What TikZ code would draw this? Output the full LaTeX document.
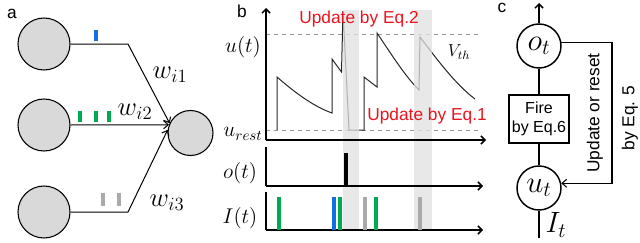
\documentclass[tikz,border=0pt]{standalone}
\usepackage{fix-cm}
\usepackage{fontspec}
\setmainfont{Liberation Sans}
\usetikzlibrary{arrows.meta}

\definecolor{spikeblue}{RGB}{20,110,230}
\definecolor{spikegreen}{RGB}{0,170,80}
\definecolor{spikegray}{RGB}{170,170,170}
\definecolor{eqred}{RGB}{235,20,30}
\definecolor{cellfill}{RGB}{217,217,217}

\tikzset{
  cell/.style={circle,draw,line width=0.8pt,fill=cellfill,minimum size=39pt,inner sep=0pt},
  syn/.style={line width=0.75pt,-{Straight Barb[length=3.5pt,width=6pt]}},
  spiketick/.style={line width=2.4pt},
  axis/.style={line width=1.1pt},
  axisarrow/.style={axis,-{Straight Barb[length=3pt,width=6pt]}},
  memb/.style={line width=0.75pt,black!85},
  thresh/.style={dashed,line width=0.6pt,black!40},
  panellabel/.style={inner sep=0pt,font=\fontsize{13}{15}\selectfont},
  eqtext/.style={inner sep=0pt,text=eqred,font=\fontsize{13}{15}\selectfont},
  wlabel/.style={inner sep=0pt,font=\fontsize{20}{22}\selectfont},
  plotlabel/.style={inner sep=0pt,font=\fontsize{16}{18}\selectfont},
  neuron/.style={circle,draw,line width=1.1pt,minimum size=33pt,inner sep=0pt,font=\fontsize{23}{25}\selectfont},
  firebox/.style={draw,line width=1.1pt,minimum width=45pt,minimum height=36pt,align=center,inner sep=1pt,font=\fontsize{12}{14}\selectfont},
  flow/.style={line width=1.1pt}
}

\begin{document}
\begin{tikzpicture}[x=0.75pt,y=0.75pt,yscale=-1,xscale=1]
	\useasboundingbox (0,0) rectangle (640,243);
	
	%%% panel a
	% Text Node
	\node[panellabel] (la) at (12,14) {a};
	%Shape: Circle
	\node[cell] (n1) at (44,44) {};
	\node[cell] (n2) at (44,125) {};
	\node[cell] (n3) at (44,212) {};
	\node[cell,minimum size=33.75pt] (post) at (190.5,133) {};
	%Straight Lines
	\coordinate (k1) at (128,44);
	\coordinate (k3) at (128,212);
	\draw[syn] (n1.east) -- (k1) -- (post.155);
	\draw[syn] (n2.east) -- (post.159);
	\draw[syn] (n3.east) -- (k3) -- (post.172);
	% spike ticks
	\draw[spiketick,spikeblue] (96,30) -- (96,41);
	\foreach \x in {80,96,109}
		\draw[spiketick,spikegreen] (\x,111) -- (\x,122);
	\foreach \x in {103,119}
		\draw[spiketick,spikegray] (\x,193) -- (\x,206);
	% Text Node
	\node[wlabel] (w1) at (170,75) {$w_{i1}$};
	\node[wlabel] (w2) at (135,112) {$w_{i2}$};
	\node[wlabel] (w3) at (167,203) {$w_{i3}$};
	
	%%% panel b
	% shaded bands, lower part
	\fill[black!9] (342.5,140) rectangle (359,230);
	\fill[black!9] (414,140) rectangle (432,230);
	%Straight Lines: threshold and rest
	\draw[thresh] (266,34) -- (480,34);
	\draw[thresh] (266,130) -- (480,130);
	%Curve Lines: membrane potential
	\draw[memb] (277,130) -- (277,77) .. controls (292,90) and (312,106) .. (332,113) -- (332,59) -- (341.5,72) -- (343,11) -- (349,130) -- (364,130) -- (364,77) -- (377,87) -- (377,33) .. controls (390,52) and (404,75) .. (419,90) -- (420,37) .. controls (436,58) and (455,84) .. (475,99);
	% shaded bands, upper part
	\fill[black!12,fill opacity=0.75] (342.5,10) rectangle (359,140);
	\fill[black!12,fill opacity=0.75] (414,10) rectangle (432,140);
	% axes
	\draw[axisarrow] (266,140) -- (266,8);
	\draw[axisarrow] (266,140) -- (486,140);
	\draw[axis] (266,147) -- (266,186);
	\draw[axisarrow] (266,186) -- (483,186);
	\draw[axis] (266,192) -- (266,230);
	\draw[axisarrow] (266,230) -- (483,230);
	% output spike
	\draw[line width=2.3pt] (346,153) -- (346,186);
	% input spikes
	\foreach \x/\c in {279/spikegreen,334/spikeblue,340/spikegreen,365/spikegray,376/spikegreen,420/spikegray}
		\draw[spiketick,\c] (\x,197) -- (\x,229.5);
	% Text Node
	\node[panellabel] (lb) at (242,11) {b};
	\node[plotlabel] (ul) at (243,47) {$u(t)$};
	\node[plotlabel] (urest) at (243,134) {$u_{rest}$};
	\node[plotlabel] (ol) at (240,173) {$o(t)$};
	\node[plotlabel] (il) at (240,218) {$I(t)$};
	\node[inner sep=0pt,font=\fontsize{13}{15}\selectfont] (vth) at (459,52) {$V_{th}$};
	\node[eqtext] (eq2) at (359,19) {Update by Eq.2};
	\node[eqtext] (eq1) at (427,116) {Update by Eq.1};
	
	%%% panel c
	\node[panellabel] (lc) at (502,8) {c};
	%Shape: Circle
	\node[neuron] (ot) at (539,46) {$o_t$};
	\node[firebox] (fire) at (539,119) {Fire\\by Eq.6};
	\node[neuron] (ut) at (539,188) {$u_t$};
	\coordinate (outtop) at (539,3);
	\coordinate (inbot) at (539,238);
	\coordinate (fbx) at (612,0);
	%Straight Lines
	\draw[flow,-{Straight Barb[length=3pt,width=6pt]}] (ot) -- (outtop);
	\draw[flow] (ot) -- (fire);
	\draw[flow] (fire) -- (ut);
	\draw[flow] (ut) -- (inbot);
	\draw[line width=0.8pt,-{Straight Barb[length=3.5pt,width=6pt]}] (ot.10) -- (ot.10 -| fbx) |- (ut.12);
	% Text Node
	\node[inner sep=0pt,rotate=90,font=\fontsize{13}{15}\selectfont] (upd) at (595,113) {Update or reset};
	\node[inner sep=0pt,rotate=90,font=\fontsize{13}{15}\selectfont] (byeq) at (630,118) {by Eq. 5};
	\node[inner sep=0pt,font=\fontsize{22}{24}\selectfont] (it) at (556,225) {$I_t$};
\end{tikzpicture}
\end{document}
